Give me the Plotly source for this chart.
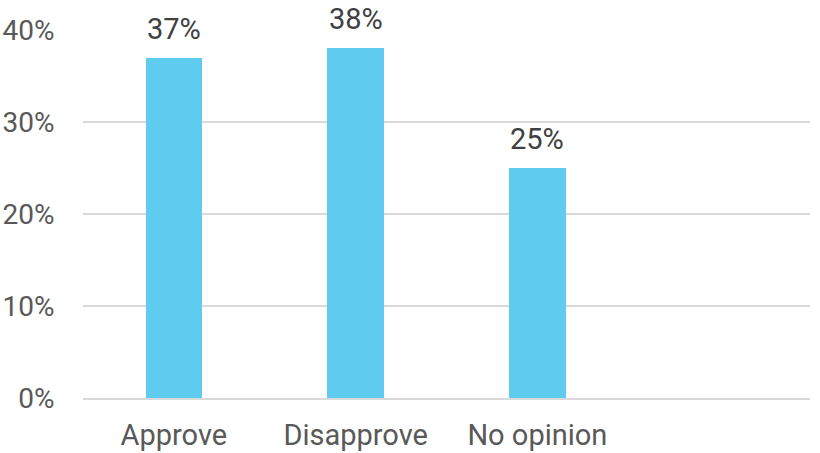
import plotly.graph_objects as go

categories = ["Approve", "Disapprove", "No opinion", " "]
values = [37, 38, 25, None]
labels = ["37%", "38%", "25%", ""]
y_ticks = [0, 10, 20, 30, 40]
y_tick_text = ["0%", "10%", "20%", "30%", "40%"]

FONT = "Roboto"
SIZE = 28

fig = go.Figure()
fig.add_trace(go.Bar(
    x=categories, y=values,
    marker=dict(color="#5FCBEF", line=dict(width=0)),
    width=0.31,
    hoverinfo="skip",
))

for c, v, t in zip(categories, values, labels):
    if v is not None:
        fig.add_annotation(x=c, y=v, text=t, showarrow=False, yanchor="bottom",
                           yshift=10, font=dict(family=FONT, size=29, color="#404040"))

fig.update_layout(
    width=820, height=453,
    margin=dict(l=83, r=10, t=30, b=55, autoexpand=False),
    paper_bgcolor="white", plot_bgcolor="white",
    showlegend=False,
    bargap=0,
    font=dict(family=FONT, size=SIZE, color="#595959"),
)
fig.update_xaxes(
    showgrid=False, zeroline=False, automargin=False,
    showline=True, linecolor="#D9D9D9", linewidth=2,
    ticks="outside", ticklen=10, tickcolor="rgba(0,0,0,0)",
    tickfont=dict(family=FONT, size=29, color="#595959"),
)
fig.update_yaxes(
    range=[0, 40], tickvals=y_ticks, ticktext=y_tick_text, automargin=False,
    showgrid=True, gridcolor="#D9D9D9", gridwidth=2,
    zeroline=False, showline=False,
    ticks="outside", ticklen=22, tickcolor="rgba(0,0,0,0)",
    tickfont=dict(family=FONT, size=SIZE, color="#595959"),
)

fig.write_html(
    "out.html",
    config={"displayModeBar": False},
    post_script="document.body.style.margin='0';document.body.style.overflow='hidden';",
)
